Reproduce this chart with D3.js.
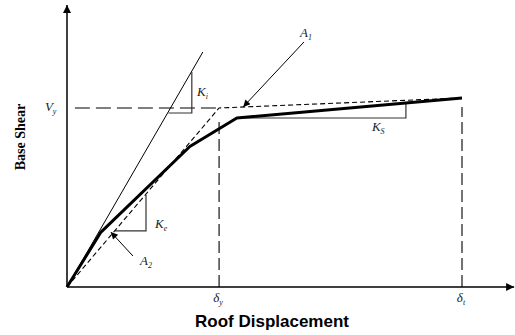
<!DOCTYPE html>
<html>
<head>
<meta charset="utf-8">
<script src="https://cdn.jsdelivr.net/npm/d3@7"></script>
<style>
  body { margin: 0; background: #fff; }
  svg { display: block; }
</style>
</head>
<body>
<div id="chart"></div>
<script>
// data (normalised units: delta_t = 100, Vy = 100)
const axisMax = [113.2, 157.5];

// actual pushover curve
const pushX = [0, 8.6, 31.1, 43.0, 100];
const pushY = [0, 30.7, 78.5, 94.4, 105.6];

// bilinear idealisation
const bilinX = [0, 38.5, 100];
const bilinY = [0, 100, 105.6];

// initial stiffness line
const kiX = [0, 34.4];
const kiY = [0, 131.3];

// reference lines
const vyLine = [[2.0, 100], [38.5, 100]];
const dyLine = [[38.5, 0], [38.5, 92.2]];
const dtLine = [[100, 0], [100, 100.6]];

// slope triangles
const kiTri = [[25.7, 97.2], [31.6, 97.2], [31.6, 120.1]];
const keTri = [[12.2, 31.3], [20.0, 31.3], [20.0, 51.4]];
const ksTri = [[43.0, 94.4], [85.8, 94.4], [85.8, 102.8]];

// annotation arrows [from, to]
const arrowA1 = [[60.0, 136.9], [44.6, 100.6]];
const arrowA2 = [[16.7, 17.3], [11.1, 30.7]];

// labels: main letter, subscript, position
const labelMain = ["V", "K", "A", "K", "K", "A", "\u03B4", "\u03B4"];
const labelSub = ["y", "i", "1", "S", "e", "2", "y", "t"];
const labelPos = [[-5.6, 98.3], [32.9, 106.7], [59.0, 139.7], [77.2, 87.2],
                  [22.3, 33.0], [18.5, 12.3], [37.0, -8.4], [98.7, -8.4]];

const svgWidth = 515, svgHeight = 335;
const origin = { x: 67, y: 287 };

const svg = d3.select("#chart").append("svg")
  .attr("width", svgWidth)
  .attr("height", svgHeight);

const xScale = d3.scaleLinear().domain([0, 100]).range([origin.x, 462]);
const yScale = d3.scaleLinear().domain([0, 100]).range([origin.y, 108]);

const line = d3.line().x(d => xScale(d[0])).y(d => yScale(d[1]));

// arrow heads
const defs = svg.append("defs");
defs.append("marker")
  .attr("id", "axisHead")
  .attr("viewBox", "0 0 10 10")
  .attr("refX", 10).attr("refY", 5)
  .attr("markerWidth", 11).attr("markerHeight", 8)
  .attr("markerUnits", "userSpaceOnUse")
  .attr("orient", "auto")
  .append("path").attr("d", "M0,0L10,5L0,10Z").attr("fill", "#000");
defs.append("marker")
  .attr("id", "noteHead")
  .attr("viewBox", "0 0 10 10")
  .attr("refX", 10).attr("refY", 5)
  .attr("markerWidth", 10).attr("markerHeight", 7)
  .attr("markerUnits", "userSpaceOnUse")
  .attr("orient", "auto")
  .append("path").attr("d", "M0,0L10,5L0,10Z").attr("fill", "#000");

// axes
svg.append("path")
  .attr("d", line([[0, 0], [axisMax[0], 0]]))
  .attr("stroke", "#000").attr("stroke-width", 1.5).attr("fill", "none")
  .attr("marker-end", "url(#axisHead)");
svg.append("path")
  .attr("d", line([[0, 0], [0, axisMax[1]]]))
  .attr("stroke", "#000").attr("stroke-width", 1.5).attr("fill", "none")
  .attr("marker-end", "url(#axisHead)");

// reference dashed lines
svg.append("path").attr("d", line(vyLine))
  .attr("stroke", "#000").attr("stroke-width", 1.1).attr("fill", "none")
  .attr("stroke-dasharray", "15,6");
[dyLine, dtLine].forEach(l => {
  svg.append("path").attr("d", line(l))
    .attr("stroke", "#000").attr("stroke-width", 1.1).attr("fill", "none")
    .attr("stroke-dasharray", "12,5");
});

// initial stiffness line
svg.append("path").attr("d", line(d3.zip(kiX, kiY)))
  .attr("stroke", "#000").attr("stroke-width", 1).attr("fill", "none");

// slope triangles
[kiTri, keTri, ksTri].forEach(t => {
  svg.append("path").attr("d", line(t))
    .attr("stroke", "#333").attr("stroke-width", 1.2).attr("fill", "none");
});

// bilinear curve
svg.append("path").attr("d", line(d3.zip(bilinX, bilinY)))
  .attr("stroke", "#000").attr("stroke-width", 1.1).attr("fill", "none")
  .attr("stroke-dasharray", "5,3");

// pushover curve
svg.append("path").attr("d", line(d3.zip(pushX, pushY)))
  .attr("stroke", "#000").attr("stroke-width", 3).attr("fill", "none")
  .attr("stroke-linejoin", "round");

// annotation arrows
[arrowA1, arrowA2].forEach(a => {
  svg.append("path").attr("d", line(a))
    .attr("stroke", "#000").attr("stroke-width", 1).attr("fill", "none")
    .attr("marker-end", "url(#noteHead)");
});

// symbol labels
labelMain.forEach((m, i) => {
  const t = svg.append("text")
    .attr("x", xScale(labelPos[i][0]))
    .attr("y", yScale(labelPos[i][1]))
    .attr("font-family", "Liberation Serif, Times New Roman, serif")
    .attr("font-style", "italic")
    .attr("font-size", 13)
    .attr("fill", "#222");
  t.append("tspan").text(m);
  t.append("tspan").attr("dy", 3).attr("font-size", 8).text(labelSub[i]);
});

// axis titles
svg.append("text")
  .attr("x", 272).attr("y", 327)
  .attr("text-anchor", "middle")
  .attr("font-family", "Liberation Sans, Arial, sans-serif")
  .attr("font-weight", "bold")
  .attr("font-size", 17)
  .text("Roof Displacement");

svg.append("text")
  .attr("transform", "translate(25,137) rotate(-90)")
  .attr("text-anchor", "middle")
  .attr("font-family", "Liberation Serif, Times New Roman, serif")
  .attr("font-weight", "bold")
  .attr("font-size", 14)
  .text("Base Shear");
</script>
</body>
</html>
